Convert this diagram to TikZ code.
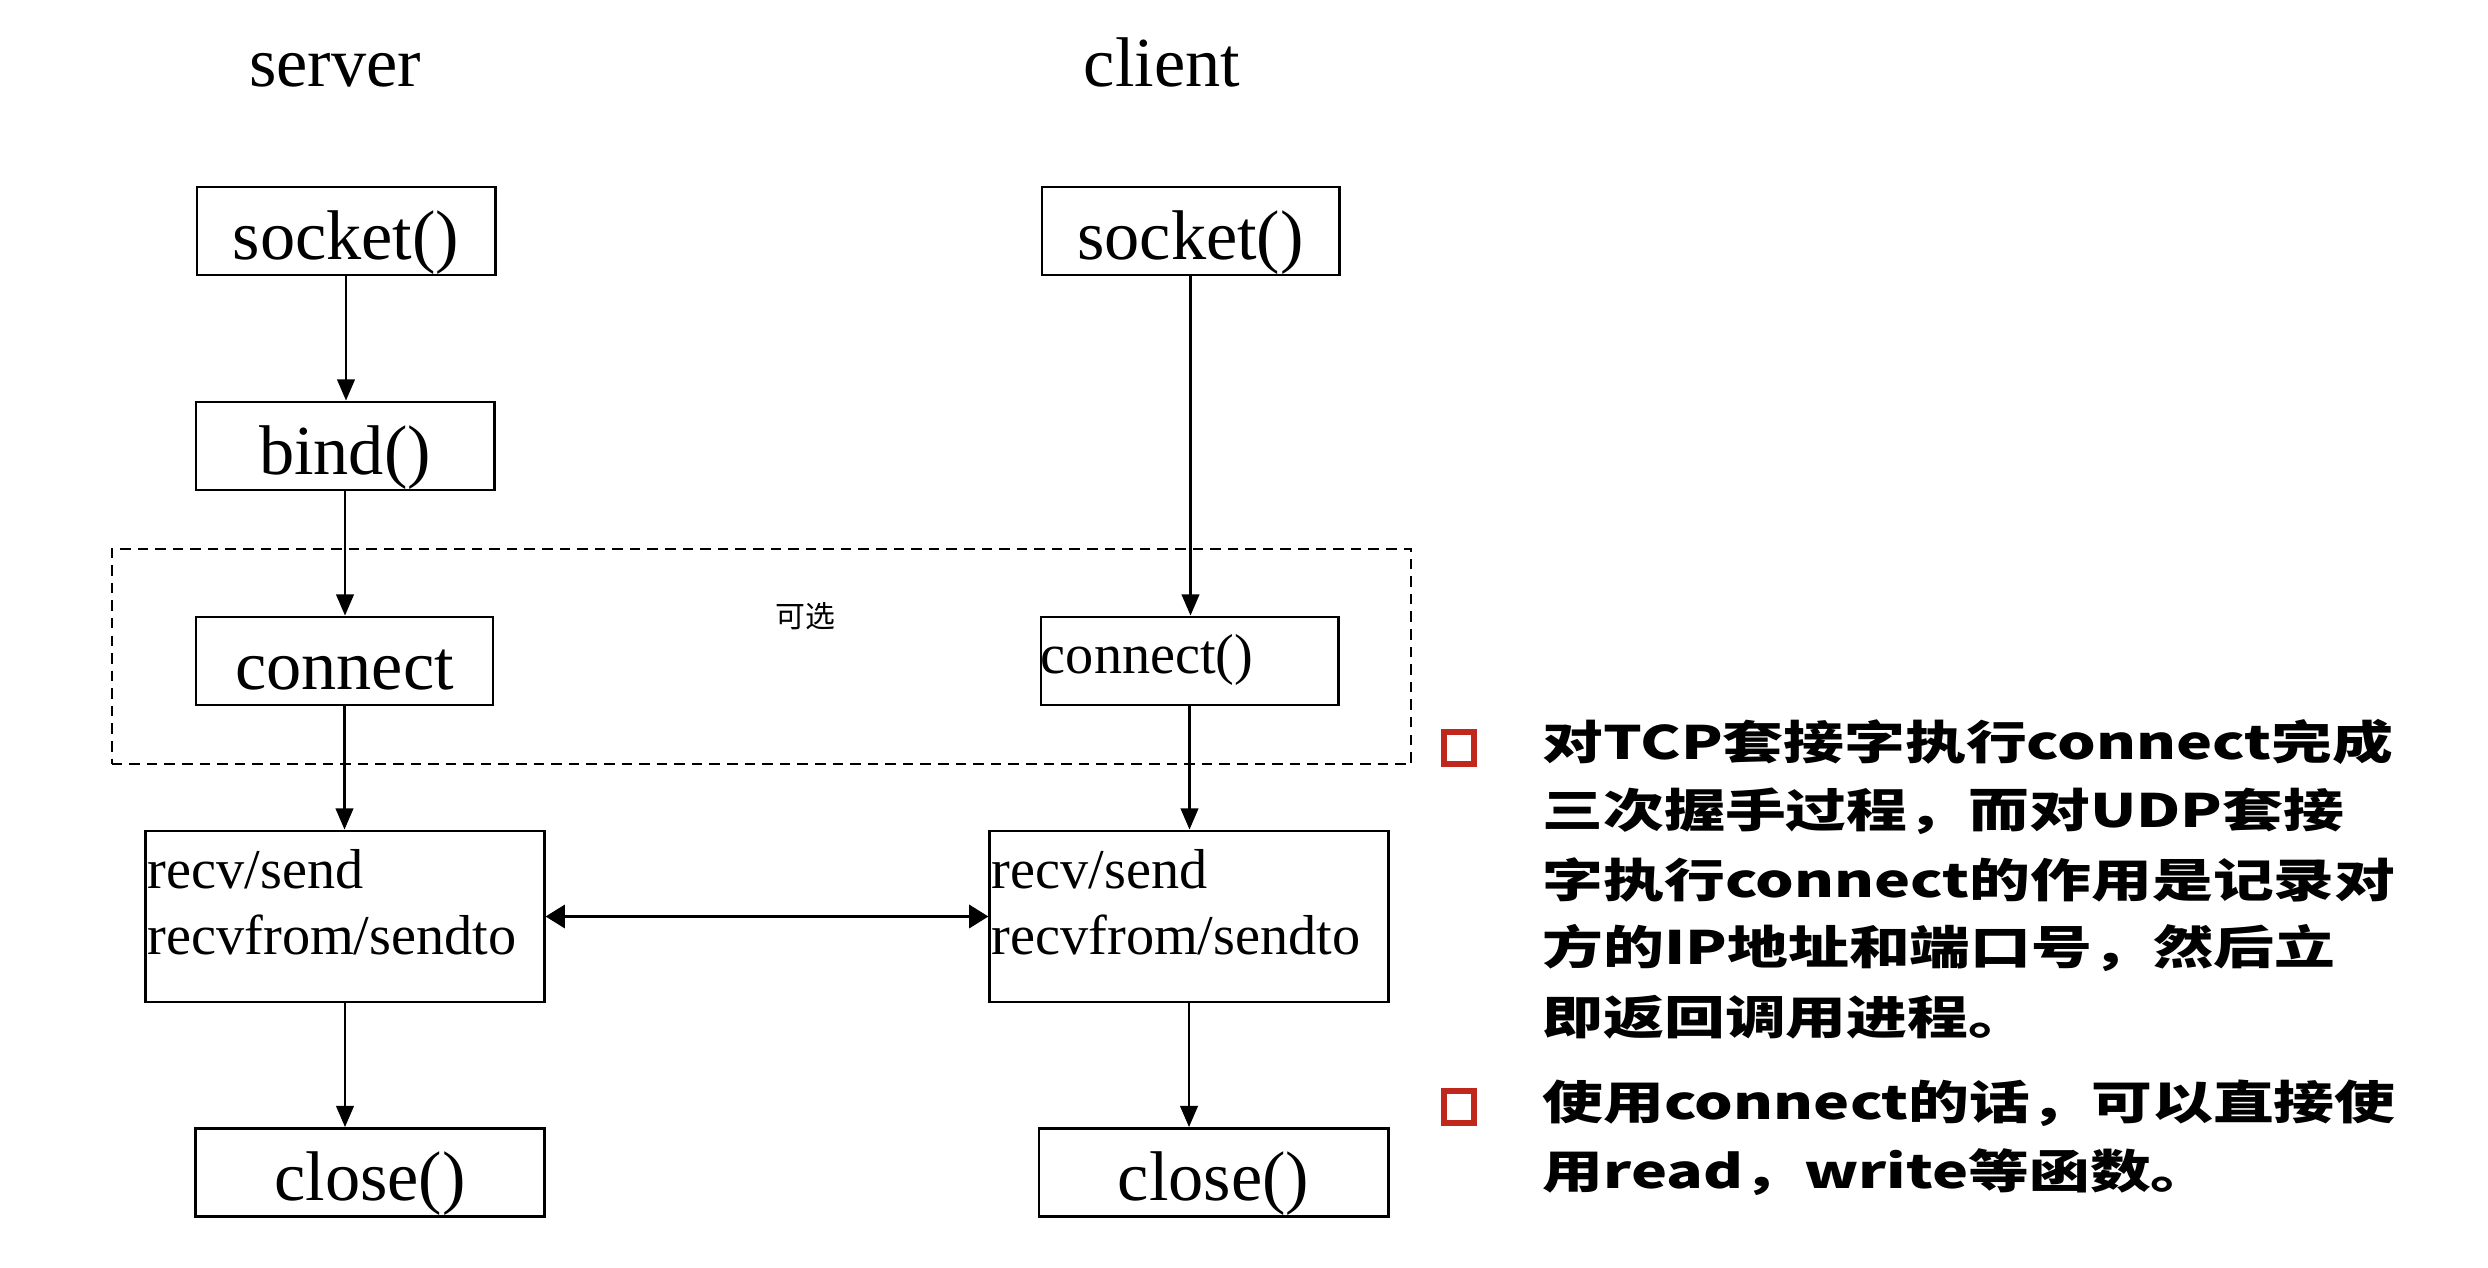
\documentclass[tikz,border=0pt]{standalone}
\usepackage{fontspec}
\setmainfont{Liberation Serif}
\newfontfamily\cjk{Noto Sans CJK SC}
\newfontfamily\cjkwide{Noto Sans CJK SC}[FakeStretch=1.32]
\usetikzlibrary{arrows.meta}
\definecolor{bulletred}{HTML}{C0281E}
\begin{document}
\begin{tikzpicture}[x=0.01cm,y=-0.01cm,
  big/.style={font=\fontsize{20pt}{24pt}\selectfont},
  box/.style={draw, line width=0.8pt, inner sep=0pt, minimum height=0.88cm,
    text height=17pt, text depth=0.8pt, font=\fontsize{20pt}{24pt}\selectfont},
  smallbox/.style={draw, line width=0.8pt, inner sep=0pt, minimum height=0.88cm,
    text height=12pt, text depth=4.8pt, align=left, font=\fontsize{16pt}{19pt}\selectfont},
  tallbox/.style={draw, line width=0.8pt, inner sep=0pt, minimum width=3.98cm, minimum height=1.71cm},
  small/.style={font=\fontsize{16pt}{19pt}\selectfont, inner sep=0pt, anchor=base west},
  flow/.style={-{Triangle[length=6pt,width=5pt]}, line width=0.6pt},
  dbl/.style={{Triangle[length=5.5pt,width=6.5pt]}-{Triangle[length=5.5pt,width=6.5pt]}, line width=1.1pt},
  bullet/.style={draw=bulletred, line width=1.5pt, minimum width=0.30cm, minimum height=0.32cm, inner sep=0pt},
  note/.style={anchor=west, inner sep=0pt, text height=0.88em, text depth=0.12em,
    font=\cjkwide\bfseries\fontsize{13.1pt}{15pt}\selectfont}
]
\useasboundingbox (0,0) rectangle (2488,1268);

% headings
\node[big, anchor=base, inner sep=0pt] (hs) at (335,87) {server};
\node[big, anchor=base, inner sep=0pt] (hc) at (1162,87) {client};

% optional region
\node[draw, dashed, dash pattern=on 3pt off 2pt, line width=0.6pt, inner sep=0pt,
  minimum width=12.99cm, minimum height=2.15cm] (opt) at (761.5,656.5) {};
\node[font=\cjk\fontsize{8.5pt}{10pt}\selectfont, inner sep=0pt] (optl) at (805,616) {可选};

% server column
\node[box, minimum width=2.98cm] (sS) at (346,231) {socket()};
\node[box, minimum width=2.98cm] (bS) at (345,446) {bind()};
\node[box, minimum width=2.97cm] (cS) at (344.5,661) {connect};
\node[tallbox] (rS) at (345,916.5) {};
\node[small] (rS1) at (147,889) {recv/send};
\node[small] (rS2) at (147,955) {recvfrom/sendto};
\node[box, minimum width=3.48cm] (clS) at (370,1172.5) {close()};

% client column
\node[box, minimum width=2.97cm] (sC) at (1190.5,231) {socket()};
\node[smallbox, minimum width=2.97cm, text width=2.97cm] (cC) at (1189.5,661) {connect()};
\node[tallbox] (rC) at (1189,916.5) {};
\node[small] (rC1) at (991,889) {recv/send};
\node[small] (rC2) at (991,955) {recvfrom/sendto};
\node[box, minimum width=3.49cm] (clC) at (1213.5,1172.5) {close()};

% connectors
\draw[flow] (sS.south) -- (sS.south |- bS.north);
\draw[flow] (bS.south) -- (bS.south |- cS.north);
\draw[flow] (cS.south) -- (cS.south |- rS.north);
\draw[flow] (rS.south) -- (rS.south |- clS.north);
\draw[flow] (sC.south) -- (sC.south |- cC.north);
\draw[flow] (cC.south) -- (cC.south |- rC.north);
\draw[flow] (rC.south) -- (rC.south |- clC.north);
\draw[dbl] (rS.east) -- (rC.west);

% notes
\node[bullet] (b1) at (1459,748) {};
\node[bullet] (b2) at (1459,1107) {};
\node[note] (n1) at (1542,746) {对TCP套接字执行connect完成};
\node[note] (n2) at (1542,814) {三次握手过程，而对UDP套接};
\node[note] (n3) at (1542,884) {字执行connect的作用是记录对};
\node[note] (n4) at (1542,951) {方的IP地址和端口号，然后立};
\node[note] (n5) at (1542,1021) {即返回调用进程。};
\node[note] (n6) at (1542,1106) {使用connect的话，可以直接使};
\node[note] (n7) at (1542,1175) {用read，write等函数。};
\end{tikzpicture}
\end{document}
